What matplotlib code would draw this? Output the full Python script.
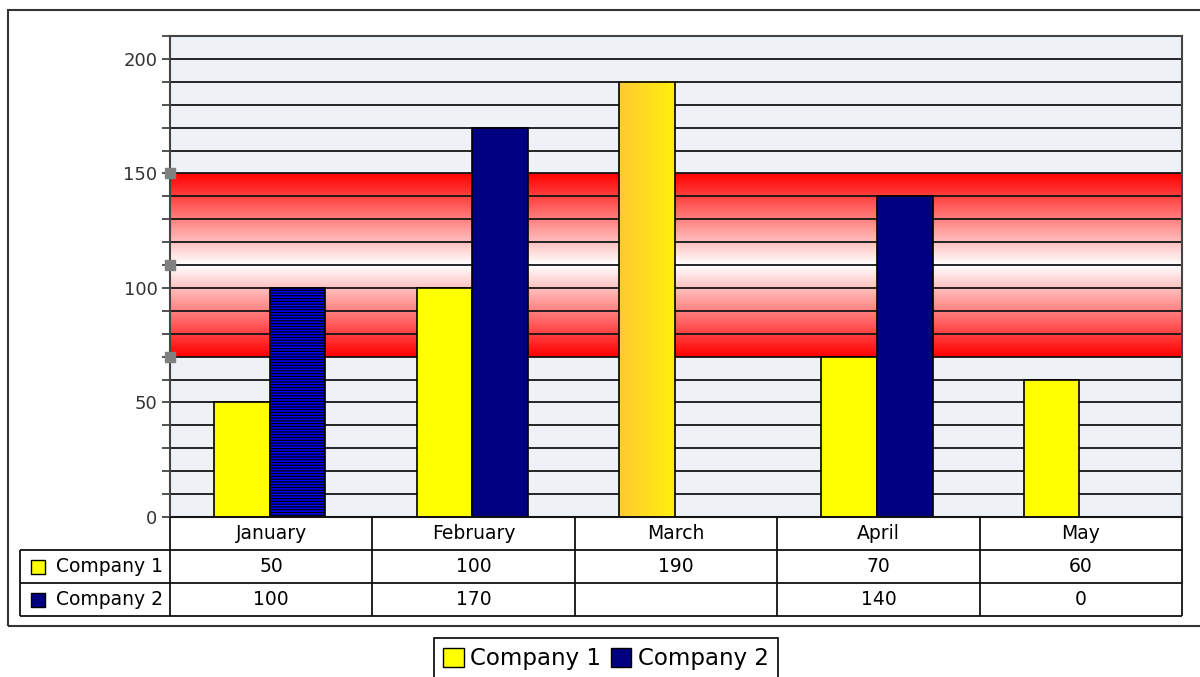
import numpy as np
import matplotlib
matplotlib.use('Agg')
import matplotlib.pyplot as plt
from matplotlib.patches import Rectangle, Patch
from matplotlib.ticker import MultipleLocator

# data
months = ['January', 'February', 'March', 'April', 'May']
company1 = [50, 100, 190, 70, 60]
company2 = [100, 170, None, 140, 0]
series_names = ['Company 1', 'Company 2']
band_low, band_high = 70, 150
band_markers = [150, 110, 70]

W, H = 1200, 677


def px(x0, y0, x1, y1):
    """pixel box -> figure fraction [left, bottom, width, height]"""
    return [x0 / W, 1 - y1 / H, (x1 - x0) / W, (y1 - y0) / H]


plt.rcParams['font.family'] = ['DejaVu Sans']
plt.rcParams['hatch.linewidth'] = 0.9

fig = plt.figure(figsize=(12, 6.77), dpi=100)

# main plot area
ax = fig.add_axes(px(170, 36, 1182, 517))
ax.set_facecolor('#EEF2F7')

x = np.arange(len(months))
w = 0.275
shift = -0.007  # pair sits a hair left of the category centre
c2 = [np.nan if v is None else v for v in company2]

# red -> white -> red band
t = np.concatenate([np.linspace(0, 1, 128), np.linspace(1, 0, 128)])
band = np.stack([np.ones_like(t), t, t], axis=-1)[:, None, :]
ax.imshow(band, extent=[-0.5, 4.5, band_low, band_high], origin='lower',
          aspect='auto', zorder=0.2, interpolation='bilinear')

b1 = ax.bar(x - w / 2 + shift, company1, w, color='#FFFF00', edgecolor='black',
            linewidth=1.2, zorder=3)
b2 = ax.bar(x + w / 2 + shift, c2, w, color='#000080', edgecolor='black',
            linewidth=1.2, zorder=3)

# January company 2: striped blue
b2[0].set_facecolor('#0000FF')
b2[0].set_hatch('------')

# March company 1: horizontal orange->yellow gradient
p = b1[2]
g = np.linspace(0, 1, 256)
grad = np.stack([np.ones_like(g), 0.79 + 0.15 * g, 0.20 - 0.15 * g], axis=-1)[None, :, :]
ax.imshow(grad, extent=[p.get_x(), p.get_x() + p.get_width(), 0, p.get_height()],
          aspect='auto', zorder=3.1, interpolation='bilinear')
p.set_facecolor('none')
p.set_zorder(3.2)

ax.set_xlim(-0.5, 4.5)
ax.set_ylim(0, 210)

ax.yaxis.set_major_locator(MultipleLocator(50))
ax.yaxis.set_minor_locator(MultipleLocator(10))
ax.set_axisbelow(True)
ax.yaxis.grid(True, which='both', color='#151515', linewidth=1.3)
ax.tick_params(axis='x', bottom=False, labelbottom=False)
ax.tick_params(axis='y', which='both', length=6, width=1.3, color='#444444')
ax.tick_params(axis='y', labelsize=13, labelcolor='#333333', pad=3)
for s in ax.spines.values():
    s.set_color('#444444')
    s.set_linewidth(1.5)

ax.scatter([-0.5] * len(band_markers), band_markers, marker='s', s=45,
           color='#808080', clip_on=False, zorder=6)

# data table under the plot
tax = fig.add_axes(px(20, 517, 1182, 616))
unit = (1182 - 170) / len(months)
left = -0.5 - 150 / unit
tax.set_xlim(left, 4.5)
tax.set_ylim(0, 3)
tax.axis('off')

lc, lw = '#111111', 1.3
tax.hlines(3, -0.5, 4.5, color=lc, lw=lw, clip_on=False)
tax.hlines([2, 1, 0], left, 4.5, color=lc, lw=lw, clip_on=False)
tax.vlines(left, 0, 2, color=lc, lw=lw, clip_on=False)
tax.vlines(np.arange(-0.5, 4.6, 1), 0, 3, color=lc, lw=lw, clip_on=False)

for i, m in enumerate(months):
    tax.text(i, 2.5, m, ha='center', va='center', fontsize=13.5)
for row, (name, vals, col) in enumerate(zip(series_names, [company1, company2],
                                            ['#FFFF00', '#000080'])):
    yc = 1.5 - row
    tax.scatter([left + 18 / unit], [yc], marker='s', s=110, color=col,
                edgecolor='black', linewidth=1.0, clip_on=False, zorder=5)
    tax.text(left + 36 / unit, yc, name, ha='left', va='center', fontsize=13.5)
    for i, v in enumerate(vals):
        tax.text(i, yc, '' if v is None else str(v), ha='center', va='center',
                 fontsize=13.5)

# outer frame
fig.add_artist(Rectangle((8 / W, 1 - 626 / H), (1215 - 8) / W, (626 - 10) / H,
                         transform=fig.transFigure, fill=False,
                         edgecolor='#333333', linewidth=1.5))

handles = [Patch(facecolor='#FFFF00', edgecolor='black'),
           Patch(facecolor='#000080', edgecolor='black')]
leg = fig.legend(handles, series_names, loc='upper center',
                 bbox_to_anchor=(606 / W, 1 - 638 / H), ncol=2, fontsize=16.5,
                 frameon=True, fancybox=False, edgecolor='black', framealpha=1,
                 handlelength=0.9, handleheight=0.9, handletextpad=0.3,
                 columnspacing=0.4, borderpad=0.4, borderaxespad=0)
leg.get_frame().set_linewidth(1.2)

fig.savefig('out.png', dpi=100)
